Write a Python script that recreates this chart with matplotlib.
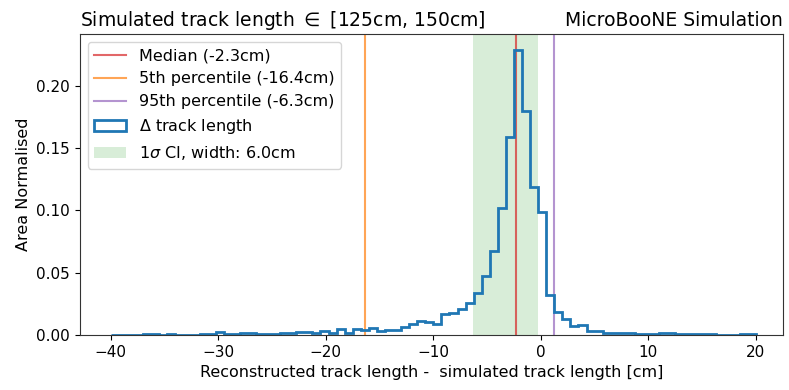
import numpy as np
import matplotlib
matplotlib.use("Agg")
import matplotlib.pyplot as plt

# bin edges: 80 bins of 0.75cm from -40 to 20
edges = np.linspace(-40, 20, 81)

# area normalised bin contents
heights = [
    0.0004, 0.0004, 0.0004, 0.0004, 0.0012, 0.0012, 0.0004, 0.0012, 0.0004, 0.0004,
    0.0004, 0.0012, 0.0012, 0.0022, 0.0012, 0.0012, 0.0014, 0.0018, 0.0012, 0.0012,
    0.0012, 0.0018, 0.0018, 0.0025, 0.0022, 0.0018, 0.0033, 0.0015, 0.0049, 0.0020,
    0.0049, 0.0040, 0.0057, 0.0035, 0.0040, 0.0043, 0.0063, 0.0087, 0.0110, 0.0108,
    0.0090, 0.0170, 0.0179, 0.0210, 0.0259, 0.0333, 0.0477, 0.0670, 0.1020, 0.1590,
    0.2290, 0.1800, 0.1190, 0.0987, 0.0320, 0.0183, 0.0128, 0.0071, 0.0077, 0.0029,
    0.0036, 0.0015, 0.0020, 0.0015, 0.0015, 0.0012, 0.0009, 0.0006, 0.0015, 0.0015,
    0.0010, 0.0010, 0.0006, 0.0010, 0.0010, 0.0003, 0.0003, 0.0003, 0.0006, 0.0006,
]

median = -2.3
p5 = -16.4
p95_line = 1.25
ci_lo, ci_hi = -6.3, -0.25

plt.rcParams['xtick.labelsize'] = 11
plt.rcParams['ytick.labelsize'] = 11
plt.rcParams['axes.labelsize'] = 11.5
plt.rcParams['axes.edgecolor'] = '#333333'

fig = plt.figure(figsize=(7.89, 3.9), dpi=100)
ax = fig.add_axes([0.101, 0.141, 0.891, 0.772])

ax.axvline(median, color="#d62728", alpha=0.7, lw=1.5, label="Median (-2.3cm)")
ax.axvline(p5, color="#ff7f0e", alpha=0.7, lw=1.5, label="5th percentile (-16.4cm)")
ax.axvline(p95_line, color="#9467bd", alpha=0.7, lw=1.5, label="95th percentile (-6.3cm)")
ax.hist(edges[:-1], bins=edges, weights=heights, histtype="step", lw=2,
        color="#1f77b4", label=r"$\Delta$ track length")
ax.axvspan(ci_lo, ci_hi, color="#2ca02c", alpha=0.18, lw=0,
           label=r"1$\sigma$ CI, width: 6.0cm")

ax.set_xlim(-42.9, 22.5)
ax.set_ylim(0, 0.2415)
ax.set_xlabel("Reconstructed track length -  simulated track length [cm]")
ax.set_ylabel("Area Normalised")
ax.set_title("Simulated track length $\\in$ [125cm, 150cm]", loc="left", fontsize=13.5)
ax.set_title("MicroBooNE Simulation", loc="right", fontsize=13.5)
ax.legend(loc="upper left", fontsize=11.5)

fig.savefig("out.png", dpi=100)
